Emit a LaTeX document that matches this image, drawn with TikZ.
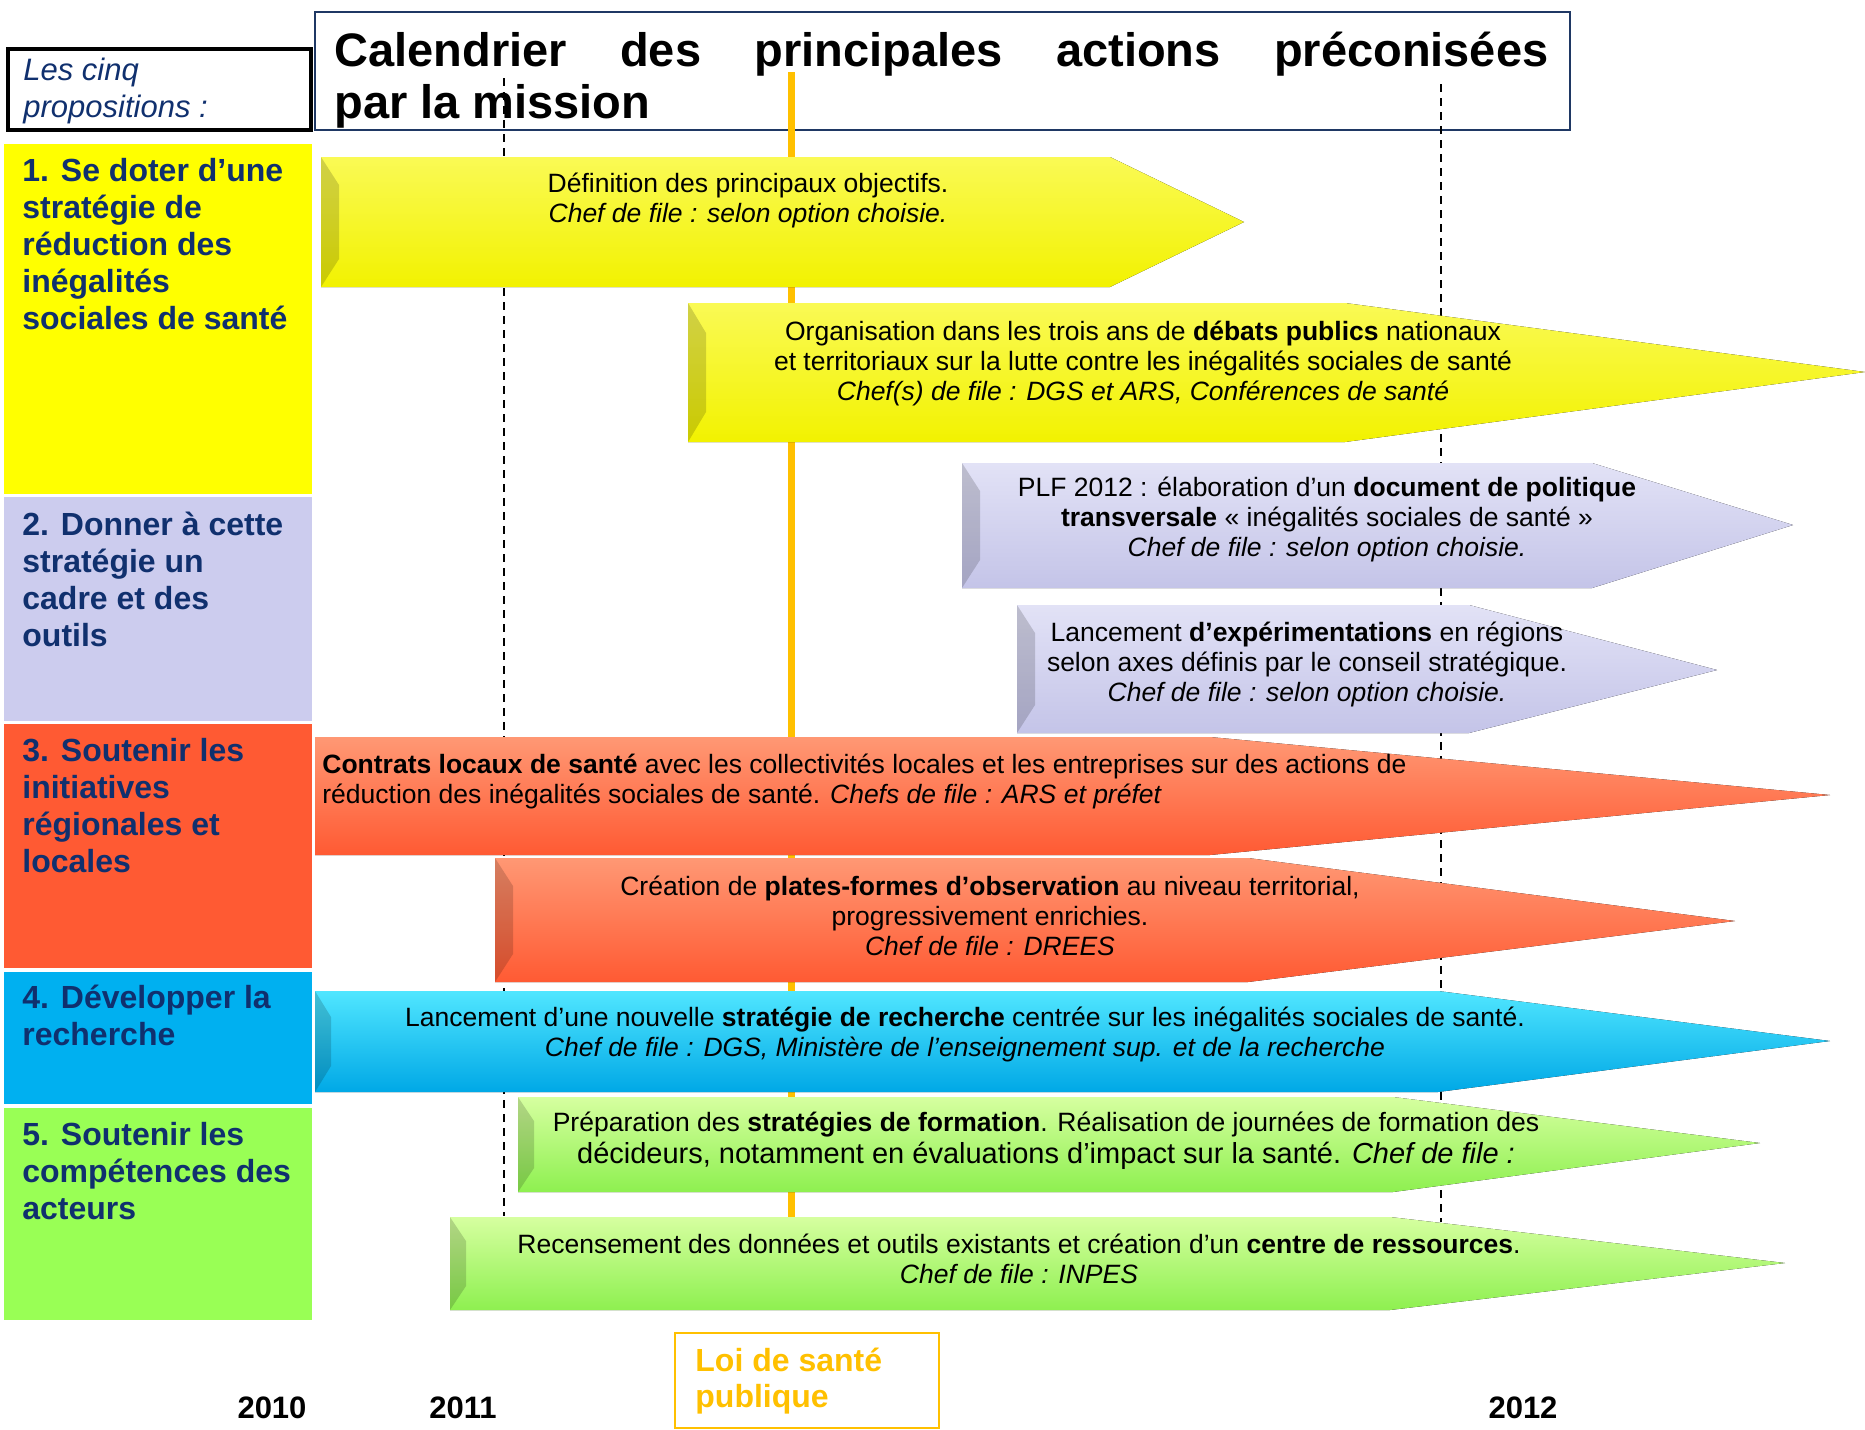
\documentclass[tikz,border=0pt]{standalone}
\usepackage{fontspec}
\setmainfont{Liberation Sans}
\usetikzlibrary{positioning}

\definecolor{navytext}{HTML}{10306E}
\definecolor{titleframe}{HTML}{1F3864}
\definecolor{lawgold}{HTML}{FFC000}
\definecolor{propyellow}{HTML}{FFFF00}
\definecolor{proplilac}{HTML}{CCCCEE}
\definecolor{propred}{HTML}{FF5A33}
\definecolor{propblue}{HTML}{00B0F0}
\definecolor{propgreen}{HTML}{99FF55}
\definecolor{yellowtop}{HTML}{FAFA55}
\definecolor{yellowbase}{HTML}{F2F200}
\definecolor{lilactop}{HTML}{E2E2F6}
\definecolor{lilacbase}{HTML}{C4C4E8}
\definecolor{redtop}{HTML}{FF9874}
\definecolor{redbase}{HTML}{FF5A33}
\definecolor{bluetop}{HTML}{50E6FF}
\definecolor{bluemid}{HTML}{10B8F0}
\definecolor{bluebase}{HTML}{00A8E6}
\definecolor{greentop}{HTML}{D6FFA0}
\definecolor{greenbase}{HTML}{8EF050}

\begin{document}
\begin{tikzpicture}[
    x=0.5pt, y=-0.5pt,
    node distance=1pt,
    propbox/.style={inner sep=0pt, minimum width=154pt},
    proptext/.style={anchor=base west, align=left, inner sep=0pt, text=navytext,
      font=\bfseries\fontsize{16}{18.5}\selectfont},
    actiontext/.style={anchor=base, align=center, inner sep=0pt,
      font=\fontsize{13.25}{15}\selectfont},
    yearlabel/.style={anchor=base, inner sep=0pt, font=\bfseries\fontsize{15.5}{18}\selectfont},
    yearline/.style={dash pattern=on 4pt off 3pt, line width=0.7pt},
    lawline/.style={draw=lawgold, line width=3.5pt},
    bevel/.style={fill=black, fill opacity=0.16},
    yellowarrow/.style={top color=yellowtop, bottom color=yellowbase},
    lilacarrow/.style={top color=lilactop, bottom color=lilacbase},
    redarrow/.style={top color=redtop, bottom color=redbase},
    bluearrow/.style={top color=bluetop, middle color=bluemid, bottom color=bluebase},
    greenarrow/.style={top color=greentop, bottom color=greenbase}
  ]
    \useasboundingbox (0,0) rectangle (1865,1430);

    % title and legend (text nodes sit on their last baseline)
    \node[anchor=base west, inner sep=0pt, align=left,
      font=\bfseries\fontsize{23.5}{26}\selectfont] (title) at (334,118)
      {\makebox[607pt][s]{Calendrier des principales actions préconisées}\\par la mission};
    \node[draw=titleframe, line width=1pt, anchor=north west, minimum width=627.5pt,
      minimum height=59pt] (titlebox) at (314,11) {};
    \node[draw, line width=2pt, anchor=north west, minimum width=151.5pt,
      minimum height=40.5pt] (legend) at (6,47) {};
    \node[anchor=base west, align=left, inner sep=0pt, text=navytext,
      font=\itshape\fontsize{15.5}{18.5}\selectfont] (legendtext) at (23,117)
      {Les cinq\\propositions :};

    % the five propositions
    \node[propbox, fill=propyellow, minimum height=175pt, anchor=north west] (box1) at (4,144) {};
    \node[propbox, fill=proplilac, minimum height=112pt, below=of box1] (box2) {};
    \node[propbox, fill=propred, minimum height=122pt, below=of box2] (box3) {};
    \node[propbox, fill=propblue, minimum height=66pt, below=1.5pt of box3] (box4) {};
    \node[propbox, fill=propgreen, minimum height=106pt, below=1.5pt of box4] (box5) {};

    \node[proptext] (prop1) at ([shift={(18,185)}]box1.north west)
      {1. Se doter d’une\\stratégie de\\réduction des\\inégalités\\sociales de santé};
    \node[proptext] (prop2) at ([shift={(18,150)}]box2.north west)
      {2. Donner à cette\\stratégie un\\cadre et des\\outils};
    \node[proptext] (prop3) at ([shift={(18,149)}]box3.north west)
      {3. Soutenir les\\initiatives\\régionales et\\locales};
    \node[proptext] (prop4) at ([shift={(18,74)}]box4.north west)
      {4. Développer la\\recherche};
    \node[proptext] (prop5) at ([shift={(18,112)}]box5.north west)
      {5. Soutenir les\\compétences des\\acteurs};

    % time marks
    \coordinate (start2011) at (504,78);
    \coordinate (end2011) at (504,1216);
    \coordinate (start2012) at (1441,84);
    \coordinate (end2012) at (1441,1222);
    \coordinate (lawstart) at (791,72);
    \coordinate (lawend) at (791,1220);
    \draw[yearline] (start2011) -- (end2011);
    \draw[yearline] (start2012) -- (end2012);
    \draw[lawline] (lawstart) -- (lawend);

    % action arrows
    \fill[yellowarrow] (321,157) -- (1110,157) -- (1244,222) -- (1110,287) -- (321,287) -- cycle;
    \fill[bevel] (321,157) -- (339,185) -- (339,259) -- (321,287) -- cycle;
    \fill[yellowarrow] (688,303) -- (1345,303) -- (1865,372) -- (1345,442) -- (688,442) -- cycle;
    \fill[bevel] (688,303) -- (706,333) -- (706,412) -- (688,442) -- cycle;
    \fill[lilacarrow] (962,463) -- (1592,463) -- (1793,525) -- (1592,588) -- (962,588) -- cycle;
    \fill[bevel] (962,463) -- (980,491) -- (980,560) -- (962,588) -- cycle;
    \fill[lilacarrow] (1017,605) -- (1469,605) -- (1717,670) -- (1469,733) -- (1017,733) -- cycle;
    \fill[bevel] (1017,605) -- (1035,633) -- (1035,705) -- (1017,733) -- cycle;
    \fill[redarrow] (315,737) -- (1210,737) -- (1830,795) -- (1210,855) -- (315,855) -- cycle;
    \fill[redarrow] (495,858) -- (1248,858) -- (1735,921) -- (1248,982) -- (495,982) -- cycle;
    \fill[bevel] (495,858) -- (513,886) -- (513,954) -- (495,982) -- cycle;
    \fill[bluearrow] (315,991) -- (1438,991) -- (1830,1041) -- (1438,1092) -- (315,1092) -- cycle;
    \fill[bevel] (315,991) -- (331,1017) -- (331,1066) -- (315,1092) -- cycle;
    \fill[greenarrow] (518,1097) -- (1393,1097) -- (1760,1143) -- (1393,1192) -- (518,1192) -- cycle;
    \fill[bevel] (518,1097) -- (534,1121) -- (534,1168) -- (518,1192) -- cycle;
    \fill[greenarrow] (450,1217) -- (1390,1217) -- (1785,1263) -- (1390,1310) -- (450,1310) -- cycle;
    \fill[bevel] (450,1217) -- (466,1241) -- (466,1286) -- (450,1310) -- cycle;

    \node[actiontext] (goals) at (748,222)
      {Définition des principaux objectifs.\\\textit{Chef de file : selon option choisie.}};
    \node[actiontext] (debates) at (1143,400)
      {Organisation dans les trois ans de \textbf{débats publics} nationaux\\
       et territoriaux sur la lutte contre les inégalités sociales de santé\\
       \textit{Chef(s) de file : DGS et ARS, Conférences de santé}};
    \node[actiontext] (plf) at (1327,556)
      {PLF 2012 : élaboration d’un \textbf{document de politique}\\
       \textbf{transversale} « inégalités sociales de santé »\\
       \textit{Chef de file : selon option choisie.}};
    \node[actiontext] (trials) at (1307,701)
      {Lancement \textbf{d’expérimentations} en régions\\
       selon axes définis par le conseil stratégique.\\
       \textit{Chef de file : selon option choisie.}};
    \node[actiontext, anchor=base west, align=left] (contracts) at (322,803)
      {\textbf{Contrats locaux de santé} avec les collectivités locales et les entreprises sur des actions de\\
       réduction des inégalités sociales de santé. \textit{Chefs de file : ARS et préfet}};
    \node[actiontext] (platforms) at (990,955)
      {Création de \textbf{plates-formes d’observation} au niveau territorial,\\
       progressivement enrichies.\\
       \textit{Chef de file : DREES}};
    \node[actiontext] (research) at (965,1056)
      {Lancement d’une nouvelle \textbf{stratégie de recherche} centrée sur les inégalités sociales de santé.\\
       \textit{Chef de file : DGS, Ministère de l’enseignement sup. et de la recherche}};
    \node[actiontext] (training) at (1046,1163)
      {Préparation des \textbf{stratégies de formation}. Réalisation de journées de formation des\\[1pt]
       {\fontsize{14.5}{16}\selectfont décideurs, notamment en évaluations d’impact sur la santé. \textit{Chef de file :}}};
    \node[actiontext] (resources) at (1019,1283)
      {Recensement des données et outils existants et création d’un \textbf{centre de ressources}.\\
       \textit{Chef de file : INPES}};

    % years and law
    \node[yearlabel] (y2010) at (272,1418) {2010};
    \node[yearlabel] (y2011) at (463,1418) {2011};
    \node[yearlabel] (y2012) at (1523,1418) {2012};
    \node[draw=lawgold, line width=1pt, anchor=north west, minimum width=132pt,
      minimum height=47.5pt] (lawbox) at (674,1332) {};
    \node[anchor=base west, align=left, inner sep=0pt, text=lawgold,
      font=\bfseries\fontsize{16}{18}\selectfont] (law) at (695,1407) {Loi de santé\\publique};
  \end{tikzpicture}
\end{document}
